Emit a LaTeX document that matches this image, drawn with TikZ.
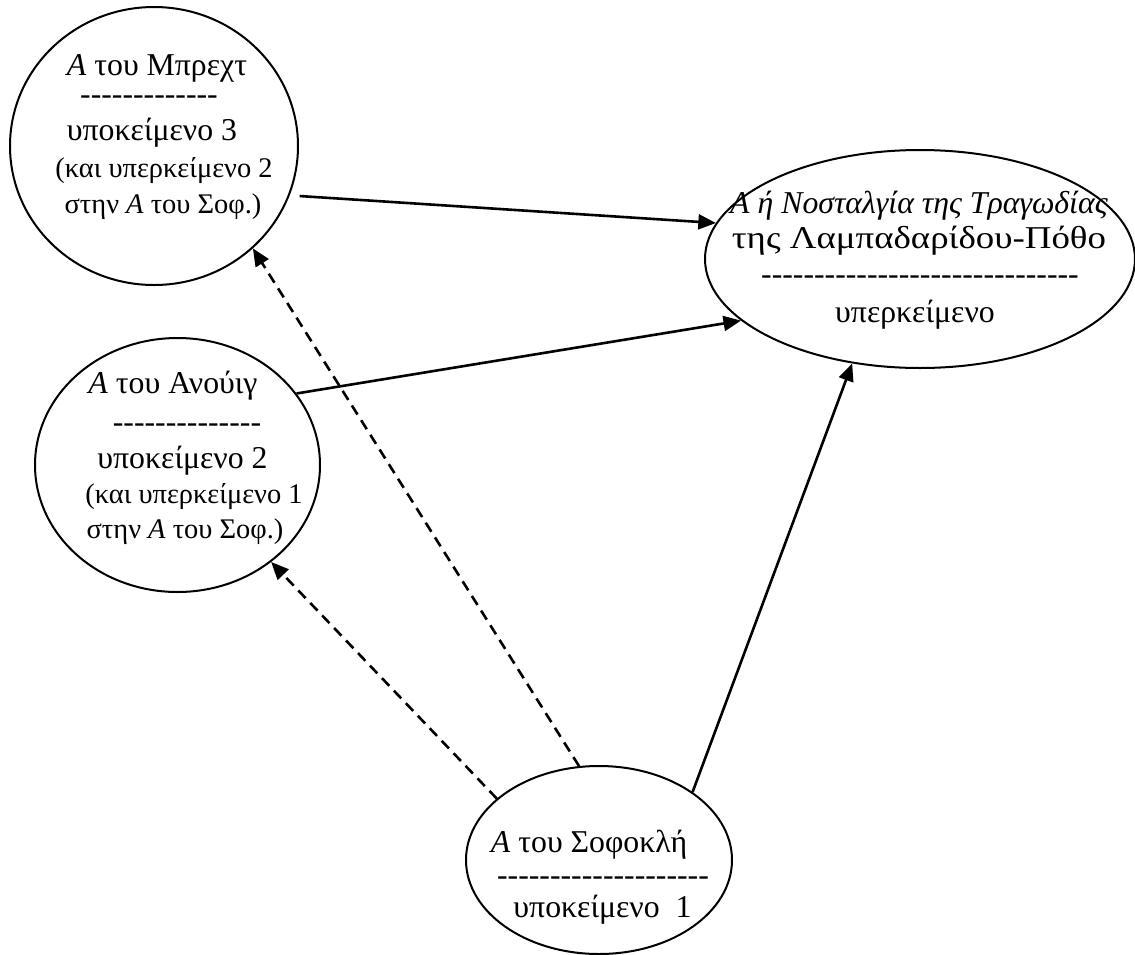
\documentclass[tikz,border=0pt]{standalone}
\usepackage{fontspec}
\usepackage{graphicx}
\setmainfont{Liberation Serif}[Ligatures=TeXOff]
\usetikzlibrary{shapes.geometric,arrows.meta}

\newlength{\du}
\setlength{\du}{0.387000\unitlength}

\tikzset{
  blob/.style={draw=dialinecolor, ellipse, inner sep=0pt, line width=2.000000\du},
  txt/.style={anchor=base, inner sep=0pt, font=\fontsize{12.3}{14}\selectfont},
  smalltxt/.style={txt, font=\fontsize{11}{13}\selectfont},
  link/.style={draw=dialinecolor, line width=2.600000\du, -{Triangle[length=6.8pt,width=5.8pt]}},
  weaklink/.style={link, dash pattern=on 4.1pt off 2.6pt},
}

\begin{document}
\begin{tikzpicture}
\pgftransformxscale{1.000000}
\pgftransformyscale{-1.000000}
\definecolor{dialinecolor}{rgb}{0.000000, 0.000000, 0.000000}
\pgfsetstrokecolor{dialinecolor}
\useasboundingbox (0.000000\du,0.000000\du) rectangle (1135.000000\du,955.000000\du);
% the four plays
\node[blob, minimum width=288.000000\du, minimum height=278.000000\du] (brecht) at (154.000000\du,146.000000\du) {};
\node[blob, minimum width=285.000000\du, minimum height=254.000000\du] (anouilh) at (177.500000\du,465.000000\du) {};
\node[blob, minimum width=430.000000\du, minimum height=218.000000\du] (nostalgia) at (920.000000\du,259.000000\du) {};
\node[blob, minimum width=266.000000\du, minimum height=188.000000\du] (sophocles) at (599.000000\du,860.000000\du) {};
% Brecht
\node[txt] (brecht1) at (157.000000\du,75.000000\du) {\textit{Α} του Μπρεχτ};
\node[txt] (brecht2) at (149.000000\du,104.000000\du) {-------------};
\node[txt] (brecht3) at (152.000000\du,140.000000\du) {υποκείμενο 3};
\node[smalltxt] (brecht4) at (164.000000\du,177.000000\du) {(και υπερκείμενο 2};
\node[smalltxt] (brecht5) at (163.000000\du,213.000000\du) {στην \textit{Α} του Σοφ.)};
% Anouilh
\node[txt] (anouilh1) at (173.000000\du,393.000000\du) {\textit{Α} του Ανούιγ};
\node[txt] (anouilh2) at (187.000000\du,432.000000\du) {--------------};
\node[txt] (anouilh3) at (182.500000\du,468.000000\du) {υποκείμενο 2};
\node[smalltxt] (anouilh4) at (194.000000\du,503.000000\du) {(και υπερκείμενο 1};
\node[smalltxt] (anouilh5) at (185.000000\du,538.000000\du) {στην \textit{Α} του Σοφ.)};
% Lampadaridou-Potho
\node[txt] (nostalgia1) at (919.000000\du,213.000000\du) {\textit{Α ή Νοσταλγία της Τραγωδίας}};
\node[txt] (nostalgia2) at (919.000000\du,248.000000\du) {\scalebox{1.16}[1]{της Λαμπαδαρίδου-Πόθο}};
\node[txt] (nostalgia3) at (920.000000\du,284.000000\du) {------------------------------};
\node[txt] (nostalgia4) at (915.000000\du,322.000000\du) {υπερκείμενο};
% Sophocles
\node[txt] (sophocles1) at (589.000000\du,852.000000\du) {\textit{Α} του Σοφοκλή};
\node[txt] (sophocles2) at (603.000000\du,885.000000\du) {--------------------};
\node[txt] (sophocles3) at (602.500000\du,917.000000\du) {υποκείμενο~~1};
% was here!!!
\draw[link, shorten <=10\du] (brecht.340.3) -- (nostalgia.170.1);
\draw[link] (anouilh.31.8) -- (nostalgia.199.5);
\draw[link] (sophocles.36.7) -- (nostalgia.237.6);
\draw[weaklink] (sophocles.102.7) -- (brecht.314);
\draw[weaklink] (sophocles.149.6) -- (anouilh.314.9);
\end{tikzpicture}
\end{document}
